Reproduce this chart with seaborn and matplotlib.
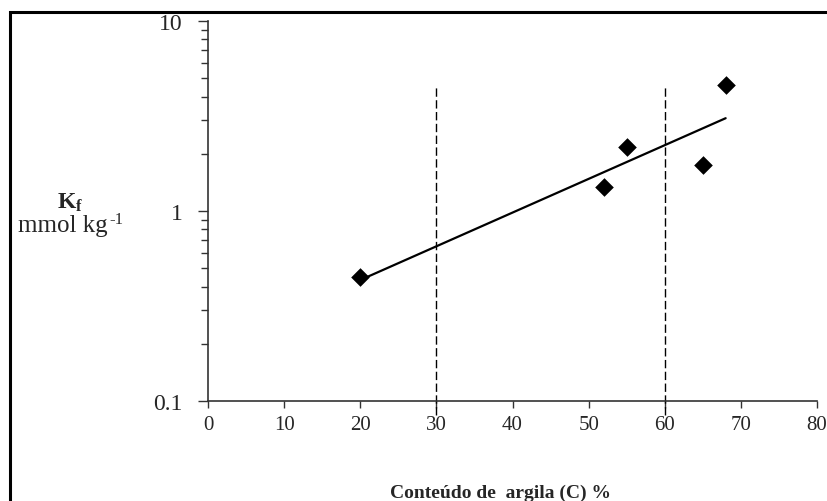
import numpy as np
import pandas as pd
import matplotlib
matplotlib.use("Agg")
import matplotlib.pyplot as plt
import seaborn as sns
from matplotlib.patches import Rectangle
from matplotlib.ticker import LogLocator, NullFormatter, FixedLocator

# dados
argila = [20, 52, 55, 65, 68]           # conteúdo de argila (C) %
kf = [0.45, 1.34, 2.17, 1.75, 4.6]      # Kf (mmol kg-1)
limites = [30, 60]                      # linhas tracejadas
limite_y = [0.084, 4.55]
x_ticks = [0, 10, 20, 30, 40, 50, 60, 70, 80]
y_ticks = [0.1, 1, 10]
y_tick_labels = ["0.1", "1", "10"]

sns.set_style("white")
plt.rcParams['font.family'] = ['Liberation Serif', 'DejaVu Serif']
plt.rcParams['mathtext.fontset'] = 'custom'
plt.rcParams['mathtext.rm'] = 'Liberation Serif'
plt.rcParams['mathtext.bf'] = 'Liberation Serif:bold'
plt.rcParams['mathtext.it'] = 'Liberation Serif:italic'

df = pd.DataFrame({"argila": argila, "kf": kf})

# ajuste exponencial (linear em log10)
coef = np.polyfit(df["argila"], np.log10(df["kf"]), 1)
df["ajuste"] = 10 ** np.polyval(coef, df["argila"])

fig = plt.figure(figsize=(8.27, 5.02), dpi=100)
ax = fig.add_axes([208 / 827, 100 / 502, 609 / 827, 380 / 502])

eixo = '#333333'
ax.vlines(limites, limite_y[0], limite_y[1], colors='black', linewidth=1.0,
          linestyles=(0, (6, 2.5)), clip_on=False, zorder=1)
sns.lineplot(data=df, x="argila", y="ajuste", color='black', linewidth=1.6,
             ax=ax, zorder=2)
sns.scatterplot(data=df, x="argila", y="kf", marker='D', s=90, color='black',
                edgecolor='black', linewidth=0, ax=ax, zorder=3)

ax.set_yscale('log')
ax.set_xlim(0, 80)
ax.set_ylim(0.1, 10)
ax.xaxis.set_major_locator(FixedLocator(x_ticks))
ax.set_xticklabels([str(t) for t in x_ticks])
ax.yaxis.set_major_locator(FixedLocator(y_ticks))
ax.set_yticklabels(y_tick_labels)
ax.yaxis.set_minor_locator(LogLocator(base=10, subs=np.arange(2, 10)))
ax.yaxis.set_minor_formatter(NullFormatter())

for s in ['top', 'right']:
    ax.spines[s].set_visible(False)
for s in ['left', 'bottom']:
    ax.spines[s].set_color(eixo)
    ax.spines[s].set_linewidth(1.2)

ax.tick_params(axis='x', which='major', direction='out', length=5, width=1.0,
               color=eixo, labelsize=15, pad=5, bottom=True)
ax.tick_params(axis='y', which='major', direction='out', length=7, width=1.0,
               color=eixo, labelsize=17, pad=11, left=True)
ax.tick_params(axis='y', which='minor', direction='out', length=5, width=1.0,
               color=eixo, left=True)
ax.set_xlabel("")
ax.set_ylabel("")

# rótulos
fig.text(70 / 827, 1 - 203 / 502, r'$\mathbf{K_f}$', ha='center', va='center',
         fontsize=17)
fig.text(108 / 827, 1 - 226 / 502, 'mmol kg', ha='right',
         va='center', fontsize=18)
fig.text(109 / 827, 1 - 220 / 502, '-1', ha='left',
         va='center', fontsize=12)
fig.text(501 / 827, 1 - 493 / 502, 'Conteúdo de  argila (C) %', ha='center',
         va='center', fontsize=14, fontweight='bold')

# moldura
fig.patches.append(Rectangle((10 / 827, -0.1), 1.0, 1 - 13 / 502 + 0.1,
                             transform=fig.transFigure, fill=False,
                             edgecolor='black', linewidth=2.2, zorder=10))

fig.savefig('out.png', dpi=100)
